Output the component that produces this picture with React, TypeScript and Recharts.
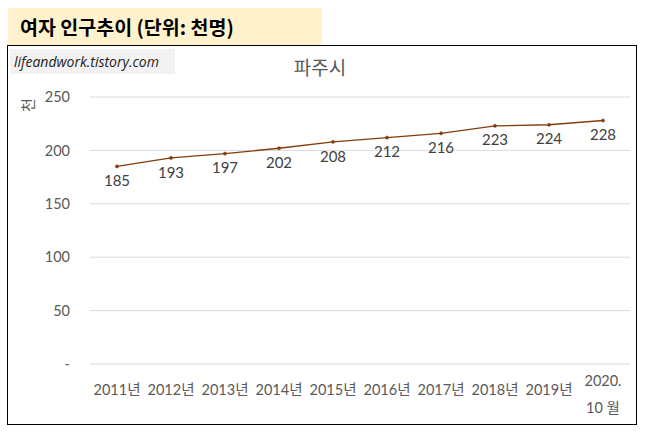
import { LineChart, Line, XAxis, YAxis, CartesianGrid, LabelList } from "recharts";

const years = ["2011년", "2012년", "2013년", "2014년", "2015년", "2016년", "2017년", "2018년", "2019년", "2020.\n10 월"];
const female = [185, 193, 197, 202, 208, 212, 216, 223, 224, 228];
const yTicks = [0, 50, 100, 150, 200, 250];

const chartData = years.map((year, i) => ({ year, female: female[i] }));

const FONT = "Lato, 'Noto Sans CJK KR', sans-serif";

// multi-line x tick (the last category wraps)
const YearTick = (props: any) => {
  const { x, y, payload } = props;
  const lines = String(payload.value).split("\n");
  return (
    <g transform={`translate(${x},${y})`}>
      {lines.map((ln, i) => (
        <text
          key={i}
          x={0}
          y={lines.length > 1 ? 20 + i * 27 : 29}
          textAnchor="middle"
          fill="#595959"
          fontSize={14.5}
          fontFamily={FONT}
        >
          {ln}
        </text>
      ))}
    </g>
  );
};

export default function App() {
  return (
    <div style={{ position: "absolute", left: 0, top: 0, width: 646, height: 437, background: "#fff", fontFamily: FONT }}>
      {/* header banner */}
      <div
        style={{
          position: "absolute", left: 8, top: 8, width: 314, height: 37,
          background: "#FFF2CC", fontWeight: 700, fontSize: 19.5, color: "#000",
          lineHeight: "37px", paddingLeft: 12, boxSizing: "border-box",
          fontFamily: "'Noto Sans CJK KR', sans-serif",
        }}
      >
        여자 인구추이 (단위: 천명)
      </div>

      {/* chart frame */}
      <div style={{ position: "absolute", left: 7, top: 45, width: 630, height: 380, border: "1.5px solid #000", boxSizing: "border-box" }} />

      {/* watermark */}
      <div
        style={{
          position: "absolute", left: 10, top: 49, width: 165, height: 25,
          background: "#F2F2F2", fontStyle: "italic", fontSize: 14, color: "#222",
          lineHeight: "25px", paddingLeft: 4, boxSizing: "border-box",
          fontFamily: "'Open Sans', sans-serif",
        }}
      >
        lifeandwork.tistory.com
      </div>

      {/* title */}
      <div
        style={{
          position: "absolute", left: 220, top: 54, width: 200, textAlign: "center",
          fontSize: 19, color: "#595959", fontFamily: "'Noto Sans CJK KR', sans-serif", lineHeight: "26px",
        }}
      >
        파주시
      </div>

      {/* unit label */}
      <div
        style={{
          position: "absolute", left: 18, top: 95, width: 20, height: 20, textAlign: "center",
          fontSize: 15, color: "#595959", transform: "rotate(-90deg)", lineHeight: "20px",
          fontFamily: "'Noto Sans CJK KR', sans-serif",
        }}
      >
        천
      </div>

      <div style={{ position: "absolute", left: 0, top: 0 }}>
        <LineChart width={646} height={437} data={chartData} margin={{ top: 97, right: 16, left: 70, bottom: 0 }}>
          <CartesianGrid stroke="#D9D9D9" vertical={false} />
          <XAxis
            dataKey="year"
            axisLine={false}
            tickLine={false}
            tickSize={0}
            height={73}
            interval={0}
            padding={{ left: 27, right: 27 }}
            tick={<YearTick />}
          />
          <YAxis
            domain={[0, 250]}
            ticks={yTicks}
            width={20}
            axisLine={false}
            tickLine={false}
            tickSize={0}
            tickMargin={20}
            tickFormatter={(v: number) => (v === 0 ? "-" : String(v))}
            tick={{ fontSize: 14.5, fill: "#595959", fontFamily: FONT }}
          />
          <Line
            dataKey="female"
            type="linear"
            stroke="#843C0C"
            strokeWidth={1.3}
            dot={{ r: 1.6, fill: "#843C0C", stroke: "#843C0C", strokeWidth: 0.5 }}
            isAnimationActive={false}
          >
            <LabelList dataKey="female" position="bottom" offset={9} fill="#404040" fontSize={15} fontFamily={FONT} />
          </Line>
        </LineChart>
      </div>
    </div>
  );
}
